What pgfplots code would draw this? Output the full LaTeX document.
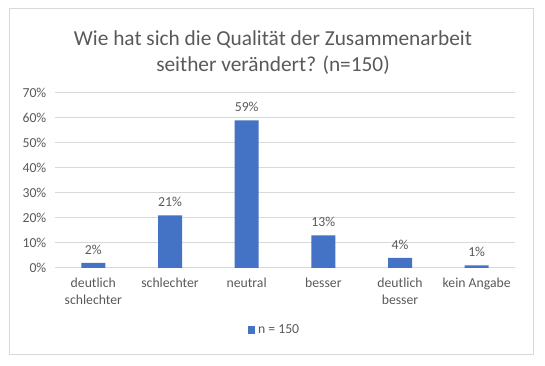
\documentclass[border=0pt]{standalone}
\usepackage{pgfplots}
\pgfplotsset{compat=1.18}
\usepackage{fontspec}
\setmainfont{Carlito}
\definecolor{barblue}{HTML}{4472C4}
\definecolor{txtgray}{HTML}{595959}
\definecolor{gridgray}{HTML}{D9D9D9}
\begin{document}
\begin{tikzpicture}
\begin{scope}[x=0.75pt,y=0.75pt,shift={(-55,-98)}]
\path[use as bounding box] (0,0) rectangle (545,366);
\draw[gridgray, line width=0.75pt] (9.5,11) rectangle (533,357.5);
\node[align=center, text=txtgray, font=\fontsize{16}{19.5}\selectfont, anchor=center] at (273,366-53) {Wie hat sich die Qualität der Zusammenarbeit\\seither verändert? (n=150)};
\end{scope}
\begin{axis}[
  scale only axis,
  width=345pt, height=131.25pt,
  ybar, bar width=18pt,
  xmin=-0.5, xmax=5.5,
  ymin=0, ymax=70,
  ytick={0,10,...,70},
  yticklabel={\pgfmathprintnumber{\tick}\%},
  xtick=data,
  xticklabels={{deutlich\\schlechter},schlechter,neutral,besser,{deutlich\\besser},kein Angabe},
  xticklabel style={align=center, text=txtgray, font=\fontsize{10.3}{13}\selectfont, yshift=-4pt},
  yticklabel style={text=txtgray, font=\fontsize{10.3}{12}\selectfont, xshift=-3pt},
  /pgf/number format/assume math mode=true,
  major tick length=0pt,
  axis line style={draw=none},
  ymajorgrids, grid style={gridgray, line width=0.75pt},
  nodes near coords={\pgfmathprintnumber{\pgfplotspointmeta}\%},
  nodes near coords style={text=txtgray, font=\fontsize{10.3}{12}\selectfont, yshift=3pt},
  legend style={at={(0.478,-0.355)}, anchor=center, draw=none, fill=none, font=\fontsize{10.3}{12}\selectfont, text=txtgray},
]
\addplot[fill=barblue, draw=none, legend image code/.code={\fill[barblue] (0pt,-2.8pt) rectangle (5.6pt,2.8pt);}] coordinates {(0,2) (1,21) (2,59) (3,13) (4,4) (5,1)};
\addlegendentry{n = 150}
\end{axis}
\end{tikzpicture}
\end{document}
